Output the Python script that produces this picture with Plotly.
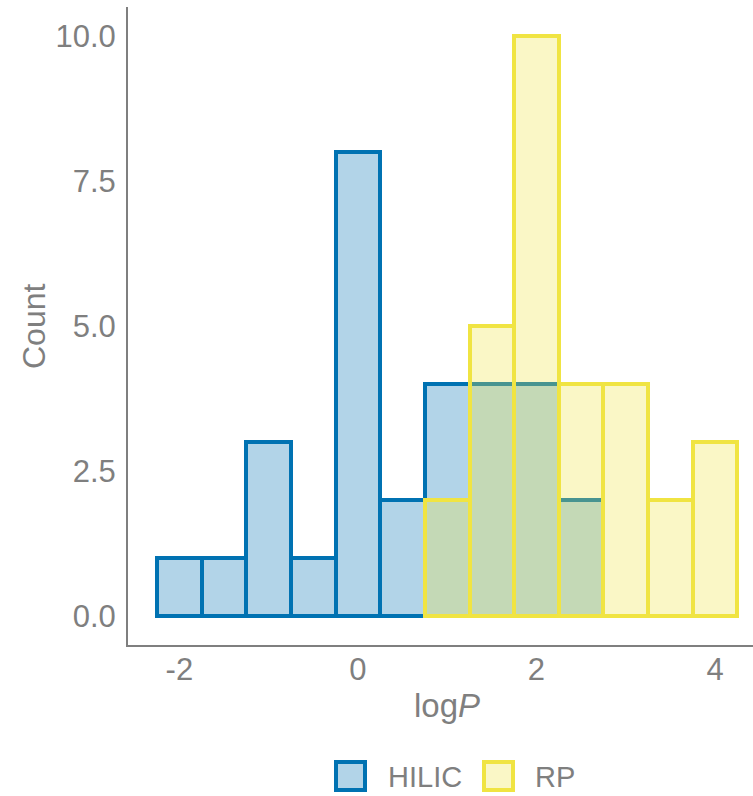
import plotly.graph_objects as go

# Histogram counts of logP per separation mode (bin width 0.5)
bin_width = 0.5
hilic_centers = [-2.0, -1.5, -1.0, -0.5, 0.0, 0.5, 1.0, 1.5, 2.0, 2.5]
hilic_counts = [1, 1, 3, 1, 8, 2, 4, 4, 4, 2]
rp_centers = [1.0, 1.5, 2.0, 2.5, 3.0, 3.5, 4.0]
rp_counts = [2, 5, 10, 4, 4, 2, 3]

x_ticks = [-2, 0, 2, 4]
y_ticks = [0, 2.5, 5.0, 7.5, 10.0]

BLUE = "#0072B2"
YELLOW = "#F0E442"
BLUE_FILL = "rgba(0,114,178,0.3)"
YELLOW_FILL = "rgba(240,228,66,0.3)"
GREY = "#7f7f7f"
FONT = "Liberation Sans, Arial, sans-serif"

W, H = 753, 796
ML, MR, MT, MB = 128, 0, 7, 151
PW, PH = W - ML - MR, H - MT - MB


def px_x(px):
    return (px - ML) / PW


def px_y(py):
    return (H - MB - py) / PH


fig = go.Figure()
fig.add_trace(go.Bar(
    x=hilic_centers, y=hilic_counts, width=bin_width, name="HILIC",
    marker=dict(color=BLUE_FILL, line=dict(color=BLUE, width=4)),
    showlegend=False,
))
fig.add_trace(go.Bar(
    x=rp_centers, y=rp_counts, width=bin_width, name="RP",
    marker=dict(color=YELLOW_FILL, line=dict(color=YELLOW, width=4)),
    showlegend=False,
))

# Legend drawn as large swatches with labels below the plot
shapes = []
annotations = []
legend_items = [("HILIC", BLUE_FILL, BLUE, 336, 386), ("RP", YELLOW_FILL, YELLOW, 484, 533)]
for label, fill, line, sx, tx in legend_items:
    shapes.append(dict(
        type="rect", xref="paper", yref="paper",
        x0=px_x(sx), x1=px_x(sx + 29), y0=px_y(790), y1=px_y(762),
        fillcolor=fill, line=dict(color=line, width=4),
    ))
    annotations.append(dict(
        text=label, xref="paper", yref="paper", x=px_x(tx), y=px_y(777),
        xanchor="left", yanchor="middle", showarrow=False,
        font=dict(family=FONT, size=29, color=GREY),
    ))

# Axis titles
annotations.append(dict(
    text="log<i>P</i>", xref="x", yref="paper", x=1.0, y=px_y(705),
    xanchor="center", yanchor="middle", showarrow=False,
    font=dict(family=FONT, size=33, color=GREY),
))
annotations.append(dict(
    text="Count", xref="paper", yref="paper", x=px_x(34), y=0.5,
    xanchor="center", yanchor="middle", textangle=-90, showarrow=False,
    font=dict(family=FONT, size=32, color=GREY),
))

fig.update_layout(
    width=W, height=H,
    margin=dict(l=ML, r=MR, t=MT, b=MB, pad=0),
    paper_bgcolor="white", plot_bgcolor="white",
    barmode="overlay", bargap=0,
    font=dict(family=FONT, color=GREY),
    shapes=shapes, annotations=annotations,
)
fig.update_xaxes(
    range=[-2.575, 4.425], tickvals=x_ticks, ticktext=[str(v) for v in x_ticks],
    showline=True, linecolor=GREY, linewidth=2, ticks="", showgrid=False, zeroline=False,
    tickfont=dict(family=FONT, size=31, color=GREY), ticklabelstandoff=-4,
)
fig.update_yaxes(
    range=[-0.5, 10.5], tickvals=y_ticks, tickformat=".1f",
    showline=True, linecolor=GREY, linewidth=2, ticks="", showgrid=False, zeroline=False,
    tickfont=dict(family=FONT, size=31, color=GREY), ticklabelstandoff=4,
)

fig.write_html("out.html")
